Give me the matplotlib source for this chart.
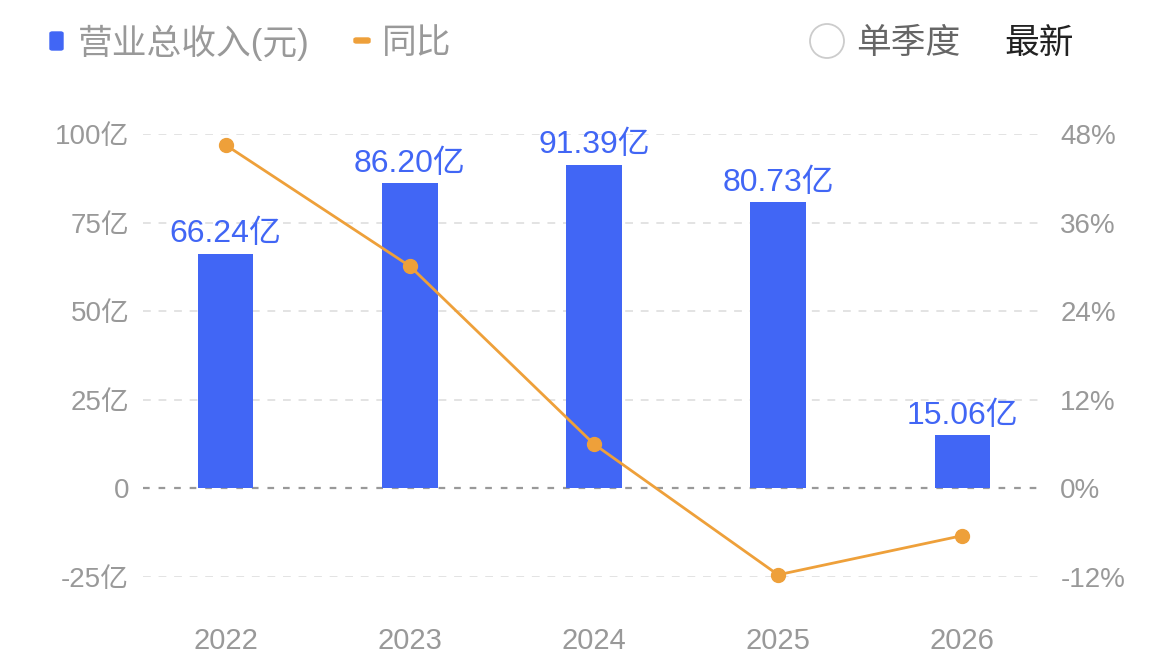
import matplotlib
matplotlib.use('Agg')
import matplotlib.pyplot as plt
from matplotlib.patches import Ellipse, FancyBboxPatch

plt.rcParams['font.family'] = ['Liberation Sans', 'Noto Sans CJK SC', 'DejaVu Sans']

years = ['2022', '2023', '2024', '2025', '2026']
revenue = [66.24, 86.20, 91.39, 80.73, 15.06]  # 亿
yoy = [46.5, 30.1, 6.0, -11.7, -6.4]  # %

left_ticks = [-25, 0, 25, 50, 75, 100]
left_labels = ['-25亿', '0', '25亿', '50亿', '75亿', '100亿']
right_ticks = [-12, 0, 12, 24, 36, 48]
right_labels = ['-12%', '0%', '12%', '24%', '36%', '48%']

bar_color = '#4166F5'
line_color = '#EEA03A'
tick_color = '#999999'

fig = plt.figure(figsize=(11.76, 6.56), dpi=100)
ax = fig.add_axes([0.1216, 0.1204, 0.767, 0.6753])
x = list(range(len(years)))

ax.set_xlim(-0.45, 4.45)
ax.set_ylim(-25, 100)
for t in left_ticks:
    if t == 0:
        ax.axhline(t, color='#999999', lw=1.6, ls=(0, (3, 4)), zorder=1)
    else:
        ax.axhline(t, color='#e3e3e3', lw=1.4, ls=(0, (4, 4)), zorder=0)

ax.bar(x, revenue, width=0.30, color=bar_color, zorder=2)
for xi, v in zip(x, revenue):
    ax.text(xi, v + 1.2, f'{v:.2f}亿', ha='center', va='bottom',
            fontsize=23, color=bar_color, zorder=5)

ax.set_yticks(left_ticks)
ax.set_yticklabels(left_labels)
ax.set_xticks(x)
ax.set_xticklabels(years)
ax.tick_params(axis='both', length=0, colors=tick_color, labelsize=20)
ax.tick_params(axis='x', labelsize=21, pad=36)
ax.tick_params(axis='y', pad=10)
for s in ax.spines.values():
    s.set_visible(False)

ax2 = ax.twinx()
ax2.set_ylim(-12, 48)
ax2.plot(x, yoy, color=line_color, lw=2, marker='o', markersize=10,
         zorder=3, clip_on=False)
ax2.set_yticks(right_ticks)
ax2.set_yticklabels(right_labels)
ax2.tick_params(axis='y', length=0, colors=tick_color, labelsize=20, pad=11)
for s in ax2.spines.values():
    s.set_visible(False)

# header legend
fig.patches.append(FancyBboxPatch(
    (50 / 1176, 1 - 50 / 656), 13 / 1176, 18 / 656,
    boxstyle='round,pad=0,rounding_size=0.002', transform=fig.transFigure,
    color=bar_color))
fig.text(78 / 1176, 1 - 43 / 656, '营业总收入(元)', fontsize=25,
         color='#999999', va='center')
fig.patches.append(FancyBboxPatch(
    (354 / 1176, 1 - 43 / 656), 16 / 1176, 5 / 656,
    boxstyle='round,pad=0,rounding_size=0.002', transform=fig.transFigure,
    color=line_color))
fig.text(382 / 1176, 1 - 43 / 656, '同比', fontsize=25,
         color='#999999', va='center')
fig.patches.append(Ellipse((827 / 1176, 1 - 41 / 656), 34 / 1176, 34 / 656,
                           transform=fig.transFigure, fill=False,
                           edgecolor='#cccccc', lw=1.3))
fig.text(856 / 1176, 1 - 43 / 656, '单季度', fontsize=25,
         color='#666666', va='center')
fig.text(1004 / 1176, 1 - 43 / 656, '最新', fontsize=25,
         color='#222222', va='center')

fig.savefig('out.png', dpi=100)
